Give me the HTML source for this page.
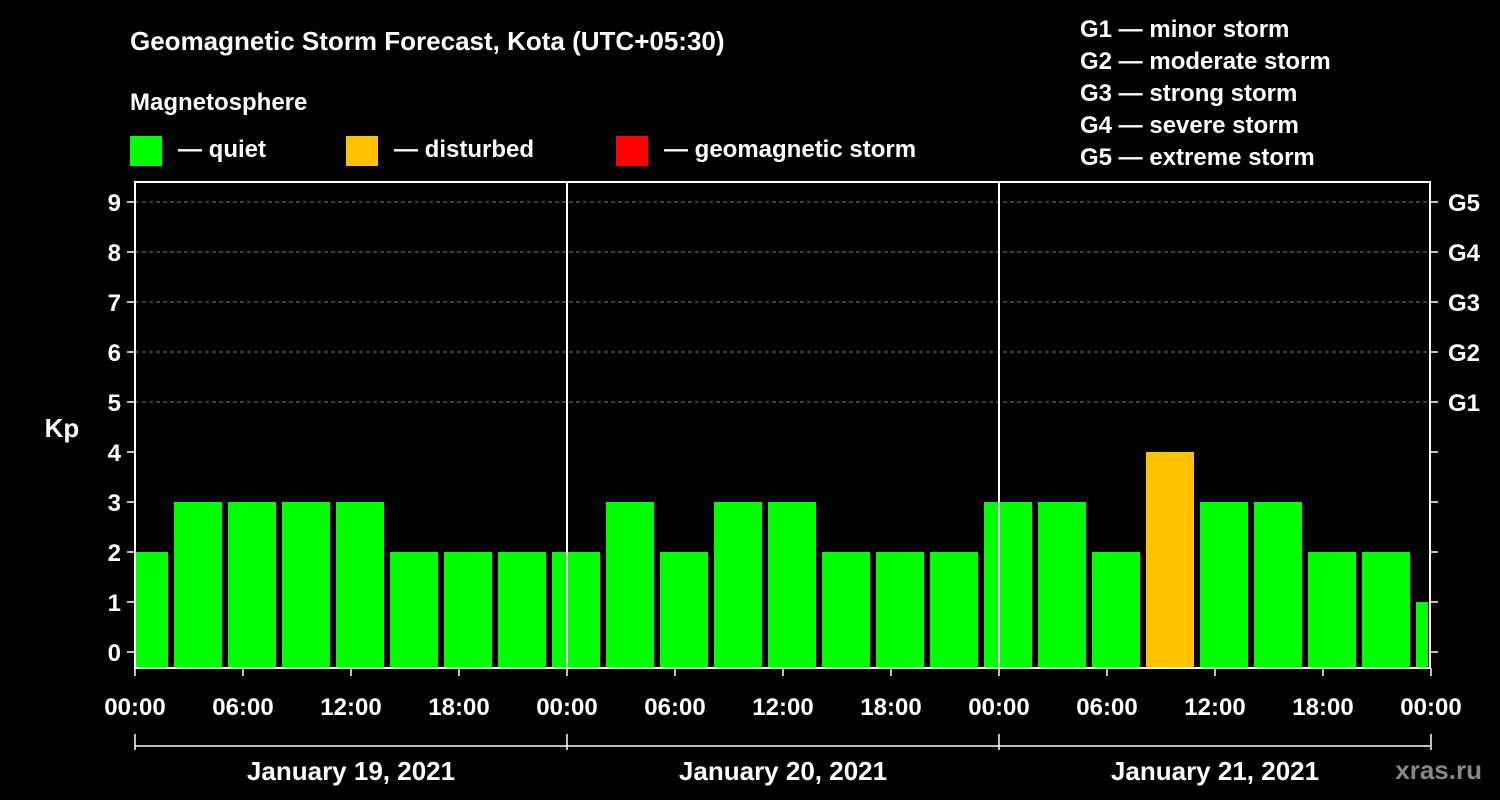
<!DOCTYPE html>
<html><head><meta charset="utf-8"><style>
html,body{margin:0;padding:0;background:#000;}
svg{display:block;font-family:"Liberation Sans",Arial,sans-serif;font-weight:bold;}
</style></head><body>
<svg id="chart" width="1500" height="800" xmlns="http://www.w3.org/2000/svg">
<rect width="1500" height="800" fill="#000"/>
<text x="130" y="50" fill="#fff" font-size="26">Geomagnetic Storm Forecast, Kota (UTC+05:30)</text>
<text x="130" y="110" fill="#fff" font-size="24">Magnetosphere</text>
<g><rect x="130" y="136" width="32" height="30" fill="#00ff00"/><text x="178" y="157" fill="#fff" font-size="24">— quiet</text></g>
<g><rect x="346" y="136" width="32" height="30" fill="#ffc000"/><text x="394" y="157" fill="#fff" font-size="24">— disturbed</text></g>
<g><rect x="616" y="136" width="32" height="30" fill="#ff0000"/><text x="664" y="157" fill="#fff" font-size="24">— geomagnetic storm</text></g>
<g fill="#fff" font-size="24">
<text x="1080" y="37">G1 — minor storm</text>
<text x="1080" y="69">G2 — moderate storm</text>
<text x="1080" y="101">G3 — strong storm</text>
<text x="1080" y="133">G4 — severe storm</text>
<text x="1080" y="165">G5 — extreme storm</text>
</g>
<text x="62" y="437" fill="#fff" font-size="26" text-anchor="middle">Kp</text>
<g id="grid"></g><g id="bars"></g><g id="axes"></g>
<text x="1482" y="779" fill="#888" font-size="26" text-anchor="end">xras.ru</text>
</svg>
<script>
const kpValues=[2,3,3,3,3,2,2,2,2,3,2,3,3,2,2,2,3,3,2,4,3,3,2,2,1];
const kpStatus=["q","q","q","q","q","q","q","q","q","q","q","q","q","q","q","q","q","q","q","d","q","q","q","q","q"];
const yTicks=[0,1,2,3,4,5,6,7,8,9];
const gLabels=["G1","G2","G3","G4","G5"];
const xTickLabels=["00:00","06:00","12:00","18:00","00:00","06:00","12:00","18:00","00:00","06:00","12:00","18:00","00:00"];
const dayLabels=["January 19, 2021","January 20, 2021","January 21, 2021"];
const NS="http://www.w3.org/2000/svg";
const L=135,R=1430,T=182,B=668;
const pxH=18; // pixels per hour
function xs(h){return L+h*pxH;}
function ys(v){return 652-50*v;}
function mk(tag,attrs,parent,txt){const e=document.createElementNS(NS,tag);for(const k in attrs)e.setAttribute(k,attrs[k]);if(txt!==undefined)e.textContent=txt;document.getElementById(parent)?document.getElementById(parent).appendChild(e):parent.appendChild(e);return e;}
// grid
yTicks.forEach(v=>{if(v>=5){const l=mk("line",{x1:L,x2:R,y1:ys(v),y2:ys(v),stroke:"#777","stroke-dasharray":"4,3","stroke-width":1},"grid");

}});
// bars: first cell starts 2h before origin (cell boundary at 02:00 local)
const colors={q:"#00ff00",d:"#ffc000",s:"#ff0000"};
kpValues.forEach((v,i)=>{
 let x0=xs(-1+3*(i))+3, x1=xs(-1+3*(i+1))-3;
 x0=Math.max(x0,L+1); x1=Math.min(x1,R-2);
 const r=mk("rect",{x:x0,y:ys(v),width:x1-x0,height:B-ys(v),fill:colors[kpStatus[i]]},"bars");
 
 
});
const ax=document.getElementById("axes");
const fr=mk("rect",{x:L,y:T,width:R-L,height:B-T,fill:"none",stroke:"#fff","stroke-width":2},"axes");


[24,48].forEach(h=>{const l=mk("line",{x1:xs(h),x2:xs(h),y1:T,y2:B,stroke:"#fff","stroke-width":2},"axes");

});
yTicks.forEach(v=>{
 mk("line",{x1:L-8,x2:L,y1:ys(v),y2:ys(v),stroke:"#fff","stroke-width":1.5},"axes");
 mk("line",{x1:R,x2:R+8,y1:ys(v),y2:ys(v),stroke:"#fff","stroke-width":1.5},"axes");
 const t=mk("text",{x:L-14,y:ys(v)+9,fill:"#fff","font-size":24,"text-anchor":"end"},"axes",String(v));
 
 
});
gLabels.forEach((g,i)=>{const t=mk("text",{x:R+18,y:ys(5+i)+9,fill:"#fff","font-size":24},"axes",g);

});
xTickLabels.forEach((s,i)=>{
 const x=xs(i*6);
 mk("line",{x1:x,x2:x,y1:B,y2:B+8,stroke:"#fff","stroke-width":1.5},"axes");
 const t=mk("text",{x:x,y:715,fill:"#fff","font-size":24,"text-anchor":"middle"},"axes",s);
 
 
});
mk("line",{x1:L,x2:R,y1:746,y2:746,stroke:"#fff","stroke-width":1.5},"axes");
[0,24,48,72].forEach(h=>mk("line",{x1:xs(h),x2:xs(h),y1:734,y2:750,stroke:"#fff","stroke-width":1.5},"axes"));
dayLabels.forEach((d,i)=>{const t=mk("text",{x:xs(i*24+12),y:780,fill:"#fff","font-size":26,"text-anchor":"middle"},"axes",d);

});
</script>
</body></html>
